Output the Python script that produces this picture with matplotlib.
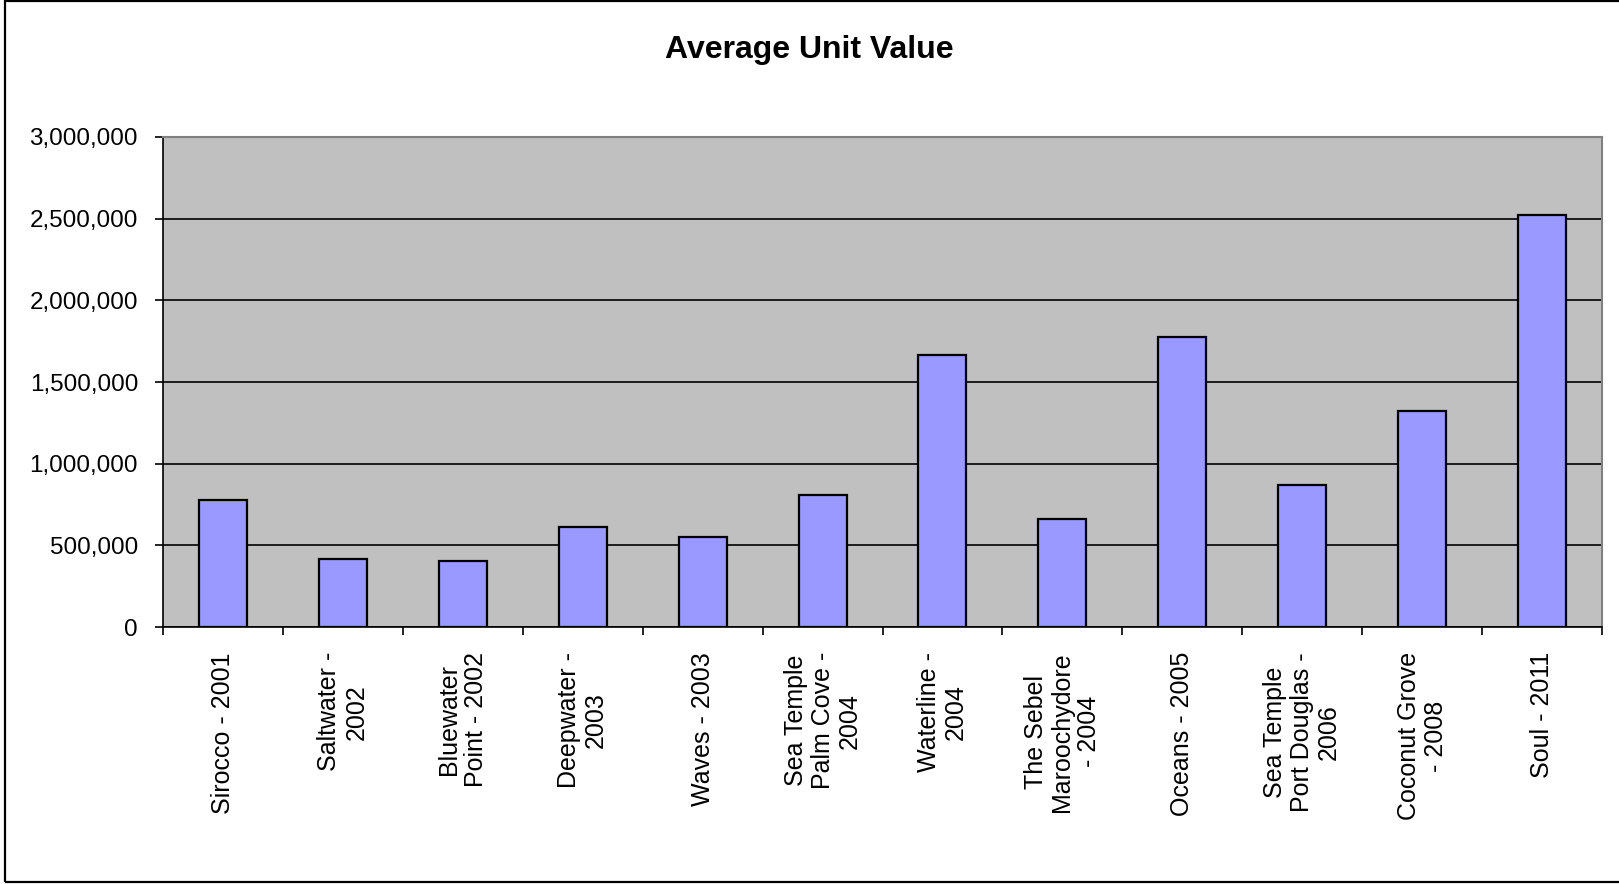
# Importamos matplotlib para graficar
import matplotlib
matplotlib.use("Agg")
import matplotlib.pyplot as plt
from matplotlib.ticker import FuncFormatter, FixedLocator
from matplotlib.patches import Rectangle
import numpy as np

# Nombres de los proyectos (eje x)
categorias = [
    "Sirocco - 2001",
    "Saltwater -\n2002",
    "Bluewater\nPoint - 2002",
    "Deepwater -\n2003",
    "Waves - 2003",
    "Sea Temple\nPalm Cove -\n2004",
    "Waterline -\n2004",
    "The Sebel\nMaroochydore\n- 2004",
    "Oceans - 2005",
    "Sea Temple\nPort Douglas -\n2006",
    "Coconut Grove\n- 2008",
    "Soul - 2011",
]

# Valor promedio por unidad de cada proyecto
valores = [780000, 415000, 405000, 610000, 550000, 807000,
           1665000, 660000, 1775000, 868000, 1320000, 2525000]

# Marcas del eje y
marcas_y = [0, 500000, 1000000, 1500000, 2000000, 2500000, 3000000]

# Fuente parecida a Arial
plt.rcParams['font.family'] = ['Liberation Sans', 'DejaVu Sans']

# Creamos la figura con el tamaño del original
fig = plt.figure(figsize=(16.19, 8.84), dpi=100)
fig.patch.set_facecolor("white")

# Ejes en la misma posición que el área de trazado
ax = fig.add_axes([163 / 1619, 1 - 627 / 884, (1602 - 163) / 1619, (627 - 137) / 884])
ax.set_facecolor("#C0C0C0")

# Dibujamos las barras
x = np.arange(len(categorias))
ax.bar(x, valores, width=0.4, color="#9999FF", edgecolor="black", linewidth=1.6, zorder=3)

# Límites de los ejes
ax.set_xlim(-0.5, len(categorias) - 0.5)
ax.set_ylim(marcas_y[0], marcas_y[-1])

# Eje y con separador de miles y líneas de cuadrícula
ax.set_yticks(marcas_y)
ax.yaxis.set_major_formatter(FuncFormatter(lambda v, p: f"{v:,.0f}"))
ax.yaxis.grid(True, color="black", linewidth=1.2, zorder=1)
ax.set_axisbelow(True)
ax.tick_params(axis="y", direction="out", length=6, width=1.2, pad=12, labelsize=17.5)

# Eje x: marcas en los bordes de cada categoría y etiquetas en el centro
ax.set_xticks(x)
ax.set_xticklabels(categorias, rotation=90, ha="center", va="top",
                   multialignment="center", linespacing=1.15)
ax.xaxis.set_minor_locator(FixedLocator(np.arange(-0.5, len(categorias), 1)))
ax.tick_params(axis="x", which="major", length=0, pad=18, labelsize=18)
ax.tick_params(axis="x", which="minor", direction="out", length=6, width=1.2)

# Bordes del área de trazado
ax.spines["left"].set_color("black")
ax.spines["bottom"].set_color("black")
ax.spines["left"].set_linewidth(1.2)
ax.spines["bottom"].set_linewidth(1.2)
ax.spines["top"].set_color("#808080")
ax.spines["right"].set_color("#808080")
ax.spines["top"].set_linewidth(1.5)
ax.spines["right"].set_linewidth(1.5)

# Título del gráfico
fig.text(0.5, 1 - 50 / 884, "Average Unit Value", ha="center", va="center",
         fontsize=23, fontweight="bold")

# Borde negro de la figura
fig.patches.append(Rectangle((4.5 / 1619, 1 - 882 / 884), 1.05, 881 / 884,
                             transform=fig.transFigure, fill=False,
                             edgecolor="black", linewidth=1.6))

# Guardamos la imagen
fig.savefig("out.png", dpi=100)
